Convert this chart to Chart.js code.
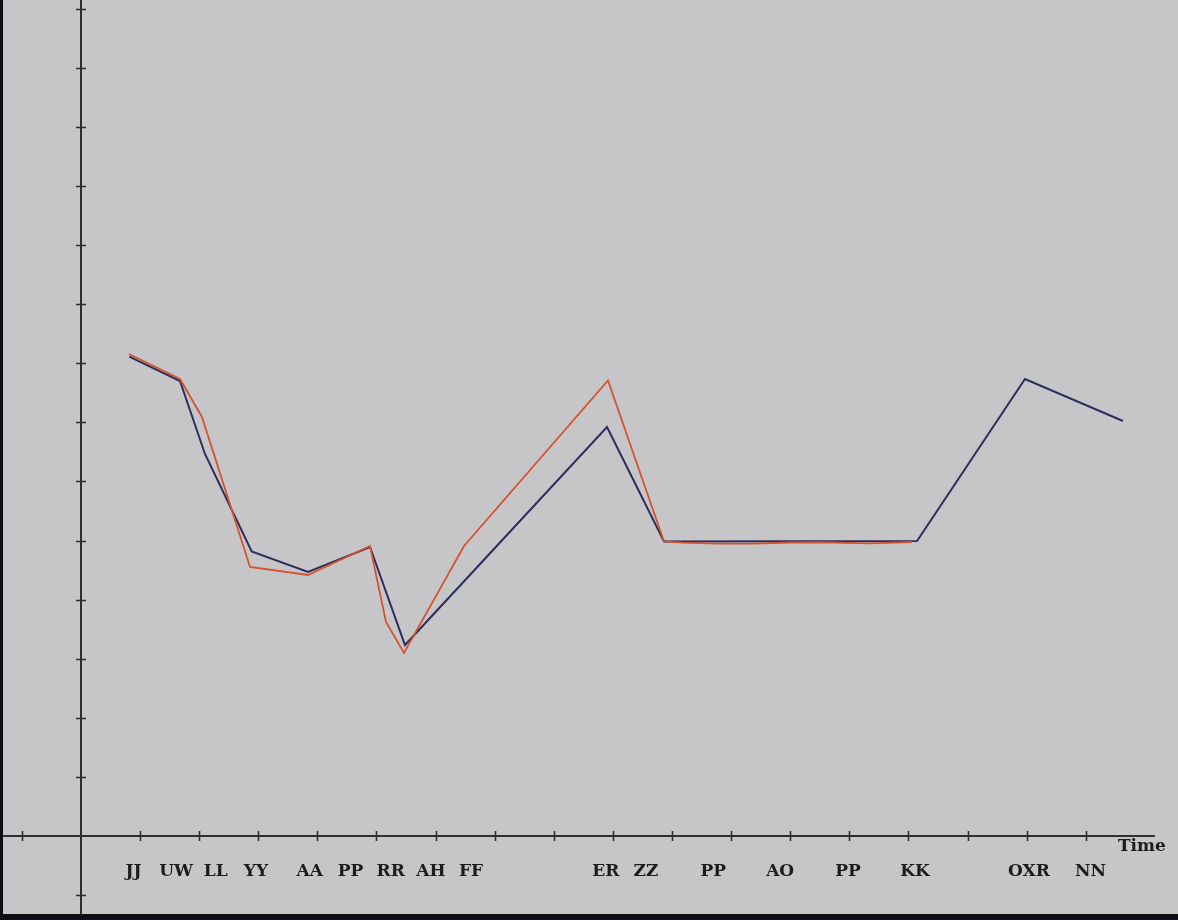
<!DOCTYPE html>
<html>
<head>
<meta charset="utf-8">
<script src="https://cdn.jsdelivr.net/npm/chart.js@4.4.1/dist/chart.umd.min.js"></script>
<style>
  html, body { margin: 0; padding: 0; width: 1178px; height: 920px; overflow: hidden; background: #0d0d18; }
  #wrap { position: absolute; left: 3px; top: 0; width: 1175px; height: 914px; }
  canvas { display: block; background: #c6c6c8; }
</style>
</head>
<body>
<div id="wrap"><canvas id="chart" width="1175" height="914"></canvas></div>
<script>
// Category labels along the time axis and where each one sits (in grid units)
const categories = ['JJ', 'UW', 'LL', 'YY', 'AA', 'PP', 'RR', 'AH', 'FF', 'ER', 'ZZ', 'PP', 'AO', 'PP', 'KK', 'OXR', 'NN'];
const categoryPositions = [0.89, 1.61, 2.28, 2.96, 3.87, 4.56, 5.24, 5.92, 6.60, 8.88, 9.56, 10.70, 11.83, 12.98, 14.11, 16.04, 17.08];

// Blue series (time, value)
const blueTimes  = [0.817, 1.675, 2.098, 2.888, 3.841, 4.890, 5.482, 8.900, 9.865, 14.146, 15.973, 17.631];
const blueValues = [8.110, 7.699, 6.464, 4.814, 4.467, 4.890, 3.232, 6.920, 4.983, 4.992, 7.733, 7.022];

// Red series (time, value)
const redTimes  = [0.812, 1.675, 2.047, 2.860, 3.841, 4.890, 5.161, 5.465, 6.481, 8.917, 9.865, 10.17, 10.78, 11.37, 12.00, 12.50, 13.35, 14.06];
const redValues = [8.156, 7.733, 7.090, 4.552, 4.416, 4.907, 3.621, 3.096, 4.907, 7.707, 4.983, 4.963, 4.946, 4.946, 4.966, 4.970, 4.953, 4.975];

// Tick steps drawn on each axis
const xTickSteps = [-1, 1, 2, 3, 4, 5, 6, 7, 8, 9, 10, 11, 12, 13, 14, 15, 16, 17];
const yTickSteps = [-1, 1, 2, 3, 4, 5, 6, 7, 8, 9, 10, 11, 12, 13, 14];

// Canvas geometry: one grid unit in pixels and where the origin sits
const W = 1175, H = 914;
const UNIT = 59.1, ORIGIN_X = 78, ORIGIN_Y = 836;
const X_MIN = -ORIGIN_X / UNIT, X_MAX = (W - ORIGIN_X) / UNIT;
const Y_MIN = -(H - ORIGIN_Y) / UNIT, Y_MAX = ORIGIN_Y / UNIT;
const X_AXIS_END = 18.17;

const AXIS_COLOR = '#2f2f33';
const LABEL_FONT = 'bold 17px "DejaVu Serif", serif';

const toPoints = (xs, ys) => xs.map((v, i) => ({ x: v, y: ys[i] }));

// Draws the crossing axes, their tick marks and the axis name
const crossAxes = {
  id: 'crossAxes',
  beforeDatasetsDraw(chart) {
    const { ctx, scales: { x, y } } = chart;
    const ox = x.getPixelForValue(0);
    const oy = y.getPixelForValue(0);
    ctx.save();
    ctx.strokeStyle = AXIS_COLOR;
    ctx.lineWidth = 2;
    ctx.beginPath();
    ctx.moveTo(x.getPixelForValue(X_MIN), oy);
    ctx.lineTo(x.getPixelForValue(X_AXIS_END), oy);
    ctx.moveTo(ox, y.getPixelForValue(Y_MIN));
    ctx.lineTo(ox, y.getPixelForValue(Y_MAX));
    ctx.stroke();

    ctx.lineWidth = 1.6;
    ctx.beginPath();
    xTickSteps.forEach(k => {
      const px = Math.round(x.getPixelForValue(k)) + 0.5;
      ctx.moveTo(px, oy - 5);
      ctx.lineTo(px, oy + 5);
    });
    yTickSteps.forEach(k => {
      const py = Math.round(y.getPixelForValue(k)) + 0.5;
      ctx.moveTo(ox - 5, py);
      ctx.lineTo(ox + 5, py);
    });
    ctx.stroke();

    ctx.fillStyle = '#1c1c1c';
    ctx.font = LABEL_FONT;
    ctx.textAlign = 'center';
    ctx.textBaseline = 'alphabetic';
    ctx.fillText('Time', x.getPixelForValue(17.95), y.getPixelForValue(-0.25));
    ctx.restore();
  }
};

new Chart(document.getElementById('chart'), {
  type: 'line',
  data: {
    datasets: [
      {
        label: 'red',
        data: toPoints(redTimes, redValues),
        borderColor: '#d4532f',
        borderWidth: 1.8,
        pointRadius: 0,
        tension: 0,
        fill: false
      },
      {
        label: 'blue',
        data: toPoints(blueTimes, blueValues),
        borderColor: '#2c2e5c',
        borderWidth: 2,
        pointRadius: 0,
        tension: 0,
        fill: false
      }
    ]
  },
  options: {
    responsive: false,
    devicePixelRatio: 1,
    animation: false,
    events: [],
    layout: { padding: 0 },
    plugins: { legend: { display: false }, tooltip: { enabled: false } },
    scales: {
      x: {
        type: 'linear',
        min: X_MIN,
        max: X_MAX,
        position: { y: 0 },
        grid: { display: false, drawTicks: false },
        border: { display: false },
        afterBuildTicks: (scale) => {
          scale.ticks = categoryPositions.map(v => ({ value: v }));
        },
        ticks: {
          autoSkip: false,
          maxRotation: 0,
          minRotation: 0,
          padding: 25,
          color: '#1c1c1c',
          font: { family: '"DejaVu Serif", serif', size: 17, weight: 'bold' },
          callback: (value, index) => categories[index]
        }
      },
      y: {
        type: 'linear',
        min: Y_MIN,
        max: Y_MAX,
        display: false
      }
    }
  },
  plugins: [crossAxes]
});
</script>
</body>
</html>
